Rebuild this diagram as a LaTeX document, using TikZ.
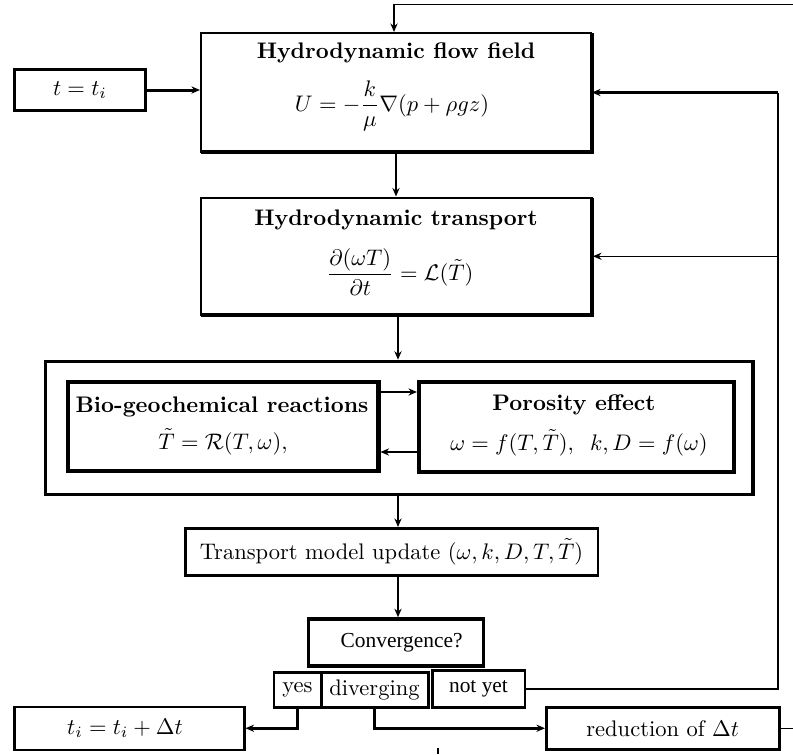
\documentclass[tikz,border=0pt]{standalone}
\usepackage{amsmath}
\usepackage{fontspec}
\newfontfamily\timesf{Liberation Serif}
\usetikzlibrary{arrows.meta}
\begin{document}
\begin{tikzpicture}[x=0.444pt,y=-0.444pt,
  box/.style={draw, inner sep=0pt, align=center},
  lwa/.style={line width=0.444pt},
  lwb/.style={line width=0.67pt},
  lwc/.style={line width=0.89pt},
  lwd/.style={line width=1.33pt},
  lwe/.style={line width=1.55pt},
  lwf/.style={line width=1.78pt},
  txt/.style={inner sep=0pt},
  title/.style={inner sep=0pt, font=\bfseries},
  tms/.style={font=\timesf\fontsize{9.5}{11}\selectfont},
  >={Stealth[length=3.8pt,width=3.2pt]}
]
\useasboundingbox (0,0) rectangle (793,754);

% boxes
\node[box, lwd, minimum width=58.16pt, minimum height=18.2pt] (tt) at (80,90) {$t=t_i$};

\node[box, lwc, minimum width=173.16pt, minimum height=52.84pt] (flow) at (396,92.5) {};
\draw[lwf] (592,33) -- (592,152) -- (201,152);
\node[title] (flowt) at (396,53) {Hydrodynamic flow field};
\node[txt] (flowf) at (392,106) {$U=-\dfrac{k}{\mu}\nabla(p+\rho g z)$};

\node[box, lwc, minimum width=173.6pt, minimum height=52.17pt] (trans) at (396.5,256.25) {};
\draw[lwf] (592,197.5) -- (592,315) -- (201,315);
\node[title] (trant) at (396,220) {Hydrodynamic transport};
\node[txt] (tranf) at (400,272) {$\dfrac{\partial(\omega T)}{\partial t}=\mathcal{L}(\tilde{T})$};

\node[box, lwe, minimum width=314.13pt, minimum height=59.05pt] (outer) at (399.25,428) {};
\node[box, lwf, minimum width=138.08pt, minimum height=39.52pt] (bio) at (223,426.5) {};
\node[title] (biot) at (222,407) {Bio-geochemical reactions};
\node[txt] (biof) at (223,442) {$\tilde{T}=\mathcal{R}(T,\omega),$};
\node[box, lwf, minimum width=139.86pt, minimum height=39.96pt] (por) at (576.5,427) {};
\node[title] (port) at (574,405) {Porosity effect};
\node[txt] (porf) at (579,443) {$\omega=f(T,\tilde{T}),\;\; k,D=f(\omega)$};

\node[box, lwd, minimum width=183.37pt, minimum height=20.87pt] (upd) at (391.5,552) {Transport model update $(\omega,k,D,T,\tilde{T})$};

\node[box, lwe, tms, minimum width=77.7pt, minimum height=20.87pt] (conv) at (396,642.5) {\hspace*{5pt}Convergence?};
\node[box, lwd, minimum width=20.87pt, minimum height=15.32pt] (yes) at (297.5,689.75) {yes};
\node[box, lwd, minimum width=47.51pt, minimum height=15.32pt] (div) at (374.5,689.75) {diverging};
\node[box, lwd, tms, minimum width=41.29pt, minimum height=16.21pt] (notyet) at (478.5,688.75) {not yet};

\node[box, lwc, minimum width=102.12pt, minimum height=19.31pt] (ti) at (129.5,728.25) {$t_i=t_i+\Delta t$\hspace*{4pt}};
\node[box, lwd, minimum width=103.23pt, minimum height=18.43pt] (red) at (662.75,728.25) {reduction of $\Delta t$};

% helper coordinates
\coordinate (ax) at (398,0);
\coordinate (ya) at (0,392);
\coordinate (yb) at (0,452);
\coordinate (rx) at (778,0);
\coordinate (topx) at (394,0);
\coordinate (tr) at (793,4.5);
\coordinate (br) at (793,728.25);
\coordinate (tk1) at (438,748);
\coordinate (tk2) at (438,754);

% connectors
\draw[lwd,->] (tt.east) -- (tt.east -| flow.west);
\draw[lwd,->] (flow.south) -- (flow.south |- trans.north);
\draw[lwb,->] (trans.south -| ax) -- (outer.north -| ax);
\draw[lwb,->] (outer.south -| ax) -- (upd.north -| ax);
\draw[lwb,->] (upd.south -| ax) -- (conv.north -| ax);
\draw[lwb,->] (bio.east |- ya) -- (por.west |- ya);
\draw[lwc,->] (por.west |- yb) -- (bio.east |- yb);
\draw[lwd,->] (yes.south) |- (ti.east);
\draw[lwd,->] (div.south) |- (red.west);
\draw[lwc] (notyet.east) -- (notyet.east -| rx) -- (rx |- flow.east);
\draw[lwd,->] (rx |- flow.east) -- (flow.east);
\draw[lwa,->] (rx |- trans.east) -- (trans.east);
\draw[lwb,->] (tr) -| (topx |- flow.north);
\draw[lwb] (red.east) -- (br);
\draw[lwc] (tk1) -- (tk2);
\end{tikzpicture}
\end{document}
